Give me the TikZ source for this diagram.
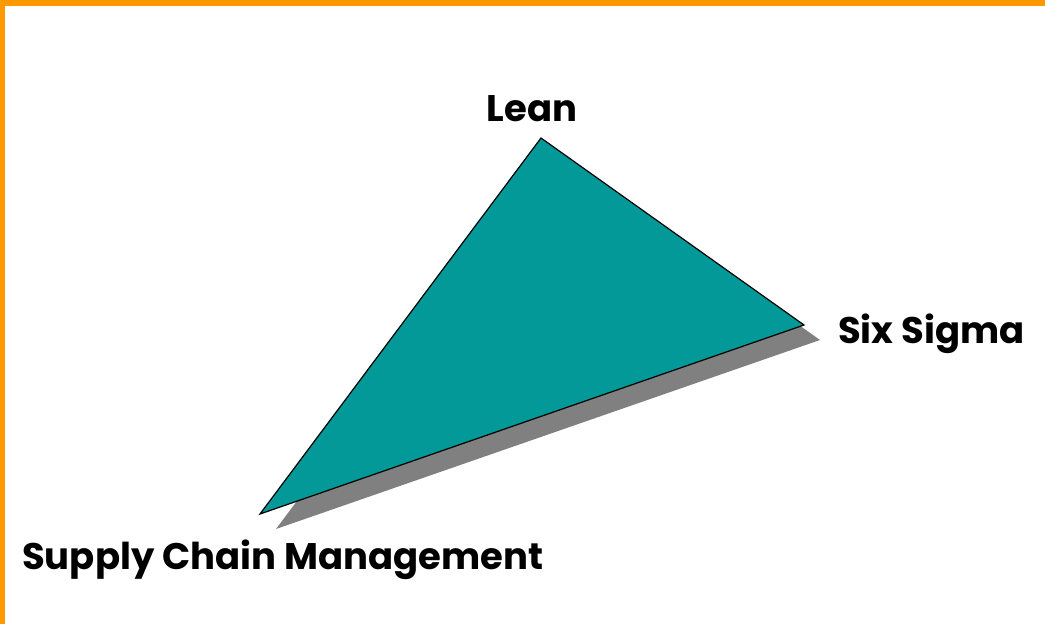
\documentclass[tikz,border=0pt]{standalone}
\usepackage{fontspec}
\setmainfont{Poppins}
\definecolor{frameorange}{HTML}{FF9900}
\definecolor{tealfill}{HTML}{039999}
\definecolor{shadowgray}{HTML}{808080}
\begin{document}
\begin{tikzpicture}[x=1pt,y=-1pt,
  lbl/.style={font=\bfseries\fontsize{37}{44}\selectfont, inner sep=0pt}]
\useasboundingbox (0,0) rectangle (1045,624);
\fill[white] (0,0) rectangle (1045,624);
% orange frame (top and left)
\fill[frameorange] (0,0) rectangle (1045,6);
\fill[frameorange] (0,0) rectangle (5,624);
% triangle corners
\coordinate (top) at (541,138);
\coordinate (right) at (804,325);
\coordinate (bl) at (260,514);
% shadow
\fill[shadowgray] ([shift={(16,15)}]top) -- ([shift={(16,15)}]right) -- ([shift={(16,15)}]bl) -- cycle;
% triangle
\filldraw[fill=tealfill, draw=black, line width=1.2pt, line join=miter] (top) -- (right) -- (bl) -- cycle;
% labels
\node[lbl, anchor=base] (lean) at (532,121) {Lean};
\node[lbl, anchor=base west] (six) at (838,343) {Six Sigma};
\node[lbl, anchor=base west] (scm) at (22,569) {Supply Chain Management};
\end{tikzpicture}
\end{document}
